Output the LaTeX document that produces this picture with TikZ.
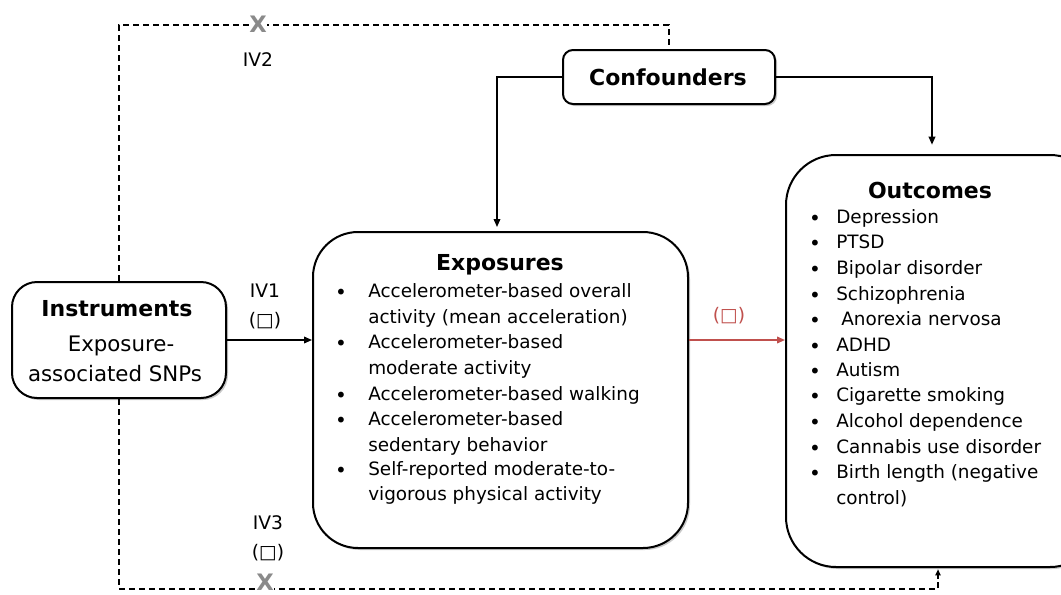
\documentclass[tikz,border=0pt]{standalone}
\usepackage{fontspec}
\setmainfont{DejaVu Sans}
\usetikzlibrary{arrows.meta,shadows}
\definecolor{redarrow}{HTML}{C0504D}
\definecolor{xgray}{HTML}{8A8A8A}
\begin{document}
\begin{tikzpicture}[x=0.75pt,y=-0.75pt,
  box/.style={draw=black,line width=1.5pt,fill=white,rounded corners=#1,
     drop shadow={shadow xshift=1.5pt,shadow yshift=-1.5pt,opacity=0.35,fill=black!60}},
  conn/.style={line width=1.1pt,-{Triangle[length=6pt,width=5pt]}},
  dashconn/.style={line width=1pt,dash pattern=on 4.5pt off 3pt},
  ttl/.style={font=\fontsize{16.5}{19}\selectfont\bfseries,inner sep=0pt},
  itm/.style={font=\fontsize{13.8}{16}\selectfont,inner sep=0pt,anchor=mid west},
  bul/.style={font=\fontsize{15}{16}\selectfont,inner sep=0pt},
  lbl/.style={font=\fontsize{14}{16}\selectfont,inner sep=0pt},
  xmark/.style={font=\fontsize{17}{18}\selectfont\bfseries,text=xgray,inner sep=0pt}]
\useasboundingbox (0,0) rectangle (1061,594);
\clip (0,0) rectangle (1061,594);
\fill[white] (0,0) rectangle (1061,594);

% boxes
\node[box=18.75pt,minimum width=160.5pt,minimum height=87pt] (inst) at (119,340) {};
\node[box=33.75pt,minimum width=281.25pt,minimum height=237pt] (exp) at (500.5,390) {};
\node[box=7.5pt,minimum width=159pt,minimum height=40.5pt] (conf) at (669,77) {};
\node[box=37.5pt,minimum width=235.5pt,minimum height=309pt] (out) at (943,361) {};

% titles
\node[ttl] (tinst) at (117,309) {Instruments};
\node[font=\fontsize{16}{19}\selectfont,inner sep=0pt] (b1) at (121,346) {Exposure-};
\node[font=\fontsize{16}{19}\selectfont,inner sep=0pt] (b2) at (115,374) {associated SNPs};
\node[ttl] (texp) at (500,265) {Exposures};
\node[ttl] (tconf) at (668,77) {Confounders};
\node[ttl] (tout) at (930,190) {Outcomes};

% exposures list
\foreach \y in {294,345,397,422,472}{\node[bul] at (341,\y) {•};}
\node[itm] (e1) at (368,294) {Accelerometer-based overall};
\node[itm] (e2) at (368,320) {activity (mean acceleration)};
\node[itm] (e3) at (368,345) {Accelerometer-based};
\node[itm] (e4) at (368,371) {moderate activity};
\node[itm] (e5) at (368,397) {Accelerometer-based walking};
\node[itm] (e6) at (368,422) {Accelerometer-based};
\node[itm] (e7) at (368,448) {sedentary behavior};
\node[itm] (e8) at (368,472) {Self-reported moderate-to-};
\node[itm] (e9) at (368,497) {vigorous physical activity};

% outcomes list
\foreach \y in {220,245,271,297,322,348,373,398,424,450,475}{\node[bul] at (815,\y) {•};}
\node[itm] (o1) at (836,220) {Depression};
\node[itm] (o2) at (836,245) {PTSD};
\node[itm] (o3) at (836,271) {Bipolar disorder};
\node[itm] (o4) at (836,297) {Schizophrenia};
\node[itm] (o5) at (841,322) {Anorexia nervosa};
\node[itm] (o6) at (836,348) {ADHD};
\node[itm] (o7) at (836,373) {Autism};
\node[itm] (o8) at (836,398) {Cigarette smoking};
\node[itm] (o9) at (836,424) {Alcohol dependence};
\node[itm] (o10) at (836,450) {Cannabis use disorder};
\node[itm] (o11) at (836,475) {Birth length (negative};
\node[itm] (o12) at (836,501) {control)};

% labels
\node[lbl] (iv1) at (265,291) {IV1};
\node[lbl] (iv1b) at (265,321) {(□)};
\node[lbl] (iv2) at (258,60) {IV2};
\node[lbl] (iv3) at (268,523) {IV3};
\node[lbl] (iv3b) at (268,553) {(□)};
\node[lbl,text=redarrow] (rb) at (729,316) {(□)};

% coordinates
\coordinate (topy) at (0,25);
\coordinate (boty) at (0,589);
\coordinate (cx1) at (497,0);
\coordinate (cx2) at (932,0);
\coordinate (cx3) at (938,0);

% connectors
\draw[conn] (inst.east) -- (inst.east -| exp.west);
\draw[conn,draw=redarrow,fill=redarrow,line width=1.2pt] (inst.east -| exp.east) -- (inst.east -| out.west);
\draw[conn] (conf.west) -| ([yshift=3pt]cx1 |- exp.north);
\draw[conn] (conf.east) -| ([yshift=7pt]cx2 |- out.north);
\draw[dashconn] (inst.north) -- (inst.north |- topy) -| (conf.north);
\draw[dashconn] (inst.south) -- (inst.south |- boty) -- (cx3 |- boty)
  -- (cx3 |- out.south);
\draw[line width=1pt,-{Triangle[length=4.5pt,width=4pt]}] ([yshift=-8pt]cx3 |- out.south) -- ([yshift=-1pt]cx3 |- out.south);

% X marks
\node[xmark,fill=white,inner xsep=0pt] (x1) at (258,24) {X};
\node[xmark,fill=white,inner xsep=0pt] (x2) at (265,582) {X};
\end{tikzpicture}
\end{document}
